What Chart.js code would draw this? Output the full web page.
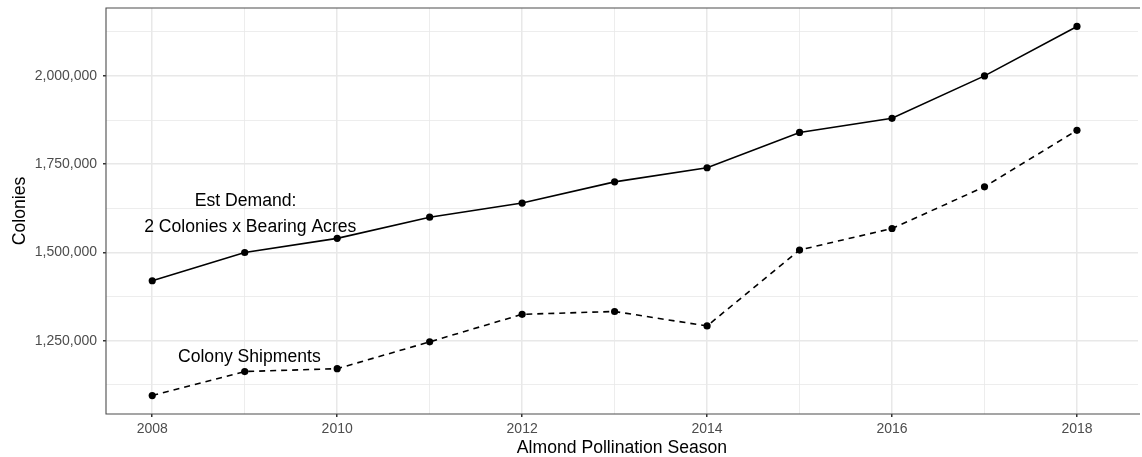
<!DOCTYPE html>
<html>
<head>
<meta charset="utf-8">
<script src="https://cdn.jsdelivr.net/npm/chart.js@4.4.1/dist/chart.umd.min.js"></script>
<style>
  html, body { margin: 0; padding: 0; background: #fff; overflow: hidden; }
  #c { display: block; }
</style>
</head>
<body>
<canvas id="c" width="1142" height="457" style="width:1142px;height:457px;"></canvas>
<script>
const years = [2008, 2009, 2010, 2011, 2012, 2013, 2014, 2015, 2016, 2017, 2018];
const demand = [1420000, 1500000, 1540000, 1600000, 1640000, 1700000, 1740000, 1840000, 1880000, 2000000, 2140000];
const shipments = [1095000, 1163000, 1171000, 1247000, 1325000, 1333000, 1292000, 1507000, 1568000, 1686000, 1846000];
const xTicks = [2008, 2009, 2010, 2011, 2012, 2013, 2014, 2015, 2016, 2017, 2018];
const xMajor = [2008, 2010, 2012, 2014, 2016, 2018];
const yTicks = [1125000, 1250000, 1375000, 1500000, 1625000, 1750000, 1875000, 2000000, 2125000];
const yMajor = [1250000, 1500000, 1750000, 2000000];
const xMin = 2007.5, xMax = 2018.66;
const labels = [
  { text: 'Est Demand:', x: 2009.01, y: 1644000 },
  { text: '2 Colonies x Bearing Acres', x: 2009.06, y: 1571000 },
  { text: 'Colony Shipments', x: 2009.05, y: 1203000 }
];

const allY = demand.concat(shipments);
const yMinD = Math.min(...allY), yMaxD = Math.max(...allY);
const yPad = (yMaxD - yMinD) * 0.05;

const FONT = '"Liberation Sans", Arial, Helvetica, sans-serif';

const annotPlugin = {
  id: 'annot',
  afterDatasetsDraw(chart) {
    const ctx = chart.ctx;
    const xs = chart.scales.x, ys = chart.scales.y;
    ctx.save();
    ctx.fillStyle = '#000';
    ctx.font = '17.6px ' + FONT;
    ctx.textAlign = 'center';
    ctx.textBaseline = 'middle';
    labels.forEach(l => {
      ctx.fillText(l.text, xs.getPixelForValue(l.x), ys.getPixelForValue(l.y));
    });
    ctx.restore();
  },
  afterDraw(chart) {
    const a = chart.chartArea;
    const ctx = chart.ctx;
    ctx.save();
    ctx.strokeStyle = '#4d4d4d';
    ctx.lineWidth = 1.1;
    ctx.beginPath();
    ctx.moveTo(a.right + 2, a.top);
    ctx.lineTo(a.left, a.top);
    ctx.lineTo(a.left, a.bottom);
    ctx.lineTo(a.right + 2, a.bottom);
    ctx.stroke();
    ctx.restore();
  }
};

new Chart(document.getElementById('c'), {
  type: 'line',
  data: {
    datasets: [
      {
        data: years.map((y, i) => ({ x: y, y: demand[i] })),
        borderColor: '#000', backgroundColor: '#000',
        borderWidth: 1.6, pointRadius: 3.6, pointBorderWidth: 0,
        fill: false, tension: 0
      },
      {
        data: years.map((y, i) => ({ x: y, y: shipments[i] })),
        borderColor: '#000', backgroundColor: '#000',
        borderWidth: 1.6, borderDash: [6, 5], pointRadius: 3.6, pointBorderWidth: 0,
        fill: false, tension: 0
      }
    ]
  },
  options: {
    responsive: false,
    maintainAspectRatio: false,
    animation: false,
    devicePixelRatio: 1,
    layout: { padding: { left: 0, right: 0, top: 8, bottom: 0 } },
    plugins: { legend: { display: false }, tooltip: { enabled: false } },
    scales: {
      x: {
        type: 'linear',
        min: xMin,
        max: xMax,
        afterBuildTicks: ax => { ax.ticks = xTicks.map(v => ({ value: v })); },
        afterFit: ax => { ax.height = 43; ax.paddingLeft = 0; ax.paddingRight = 0; },
        border: { display: false },
        grid: {
          color: '#e8e8e8',
          lineWidth: c => xMajor.includes(c.tick.value) ? 1.5 : 0.8,
          tickColor: c => xMajor.includes(c.tick.value) ? '#333333' : 'rgba(0,0,0,0)',
          tickLength: 3,
          drawTicks: true
        },
        ticks: {
          autoSkip: false,
          maxRotation: 0,
          padding: 4,
          color: '#4d4d4d',
          font: { family: FONT, size: 14 },
          callback: v => xMajor.includes(v) ? String(v) : ''
        },
        title: {
          display: true,
          text: 'Almond Pollination Season',
          color: '#000',
          font: { family: FONT, size: 17.6, lineHeight: 1.0 },
          padding: { top: 0, bottom: 0 }
        }
      },
      y: {
        type: 'linear',
        min: yMinD - yPad,
        max: yMaxD + yPad,
        afterBuildTicks: ax => { ax.ticks = yTicks.map(v => ({ value: v })); },
        afterFit: ax => { ax.width = 106; ax.paddingTop = 0; ax.paddingBottom = 0; },
        border: { display: false },
        grid: {
          color: '#e8e8e8',
          lineWidth: c => yMajor.includes(c.tick.value) ? 1.5 : 0.8,
          tickColor: c => yMajor.includes(c.tick.value) ? '#333333' : 'rgba(0,0,0,0)',
          tickLength: 3,
          drawTicks: true
        },
        ticks: {
          autoSkip: false,
          padding: 6,
          color: '#4d4d4d',
          font: { family: FONT, size: 14 },
          callback: v => yMajor.includes(v) ? v.toLocaleString('en-US') : ''
        },
        title: {
          display: true,
          text: 'Colonies',
          color: '#000',
          font: { family: FONT, size: 17.6, lineHeight: 1.2 },
          padding: { top: 10, bottom: 0 }
        }
      }
    }
  },
  plugins: [annotPlugin]
});
</script>
</body>
</html>
